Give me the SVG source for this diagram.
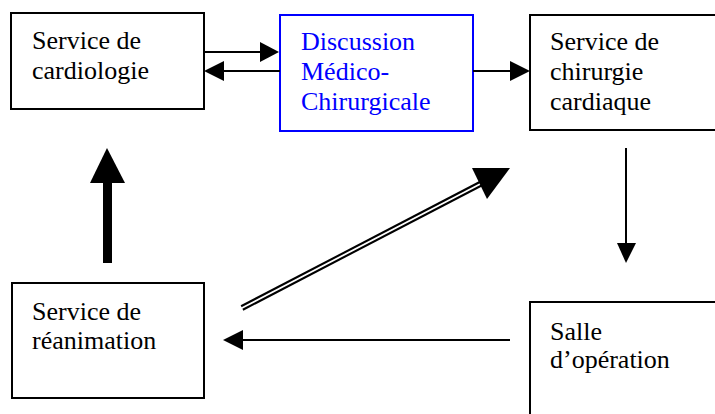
<svg xmlns="http://www.w3.org/2000/svg" width="715" height="414" viewBox="0 0 715 414">
<style>
.box{fill:#fff;stroke:#000;stroke-width:2}
.blue{fill:#fff;stroke:#0000ff;stroke-width:2}
text{font-family:"Liberation Serif","Times New Roman",serif;font-size:26px;fill:#000}
.bt{fill:#0000ff}
.ln{stroke:#000;stroke-width:2;fill:none}
.hd{fill:#000;stroke:none}
</style>
<rect width="715" height="414" fill="#fff"/>
<g id="node-cardiologie">
<rect class="box" x="11" y="13" width="193" height="96"/>
<text x="32" y="49">Service de</text>
<text x="32" y="79">cardiologie</text>
</g>
<g id="node-discussion">
<rect class="blue" x="280" y="15" width="193" height="116"/>
<text class="bt" x="301" y="50">Discussion</text>
<text class="bt" x="301" y="80">Médico-</text>
<text class="bt" x="301" y="110">Chirurgicale</text>
</g>
<g id="node-chirurgie">
<rect class="box" x="530" y="15" width="200" height="115"/>
<text x="550" y="50">Service de</text>
<text x="550" y="80">chirurgie</text>
<text x="550" y="110">cardiaque</text>
</g>
<g id="node-reanimation">
<rect class="box" x="12" y="283" width="192" height="115"/>
<text x="32" y="320">Service de</text>
<text x="32" y="349">réanimation</text>
</g>
<g id="node-salle">
<rect class="box" x="530" y="302" width="200" height="130"/>
<text x="550" y="340">Salle</text>
<text x="550" y="368">d’opération</text>
</g>
<g id="connectors">
<line class="ln" x1="204" y1="52" x2="262" y2="52"/>
<polygon class="hd" points="260,42 279,52 260,62"/>
<line class="ln" x1="280" y1="71" x2="222" y2="71"/>
<polygon class="hd" points="224,61 204,71 224,81"/>
<line class="ln" x1="473" y1="71" x2="512" y2="71"/>
<polygon class="hd" points="510,61 530,71 510,81"/>
<line class="ln" x1="626" y1="148" x2="626" y2="245"/>
<polygon class="hd" points="617,243 636,243 626,263"/>
<line class="ln" x1="510" y1="340" x2="241" y2="340"/>
<polygon class="hd" points="243,330 223,340 243,350"/>
<rect class="hd" x="103" y="181" width="9" height="82"/>
<polygon class="hd" points="90,183 107,148 125,183"/>
<line x1="242" y1="308" x2="484" y2="182" stroke="#000" stroke-width="6"/>
<line x1="240" y1="309" x2="486" y2="181" stroke="#fff" stroke-width="1.8"/>
<polygon class="hd" points="472,168 510,168 487,199"/>
</g>
</svg>
